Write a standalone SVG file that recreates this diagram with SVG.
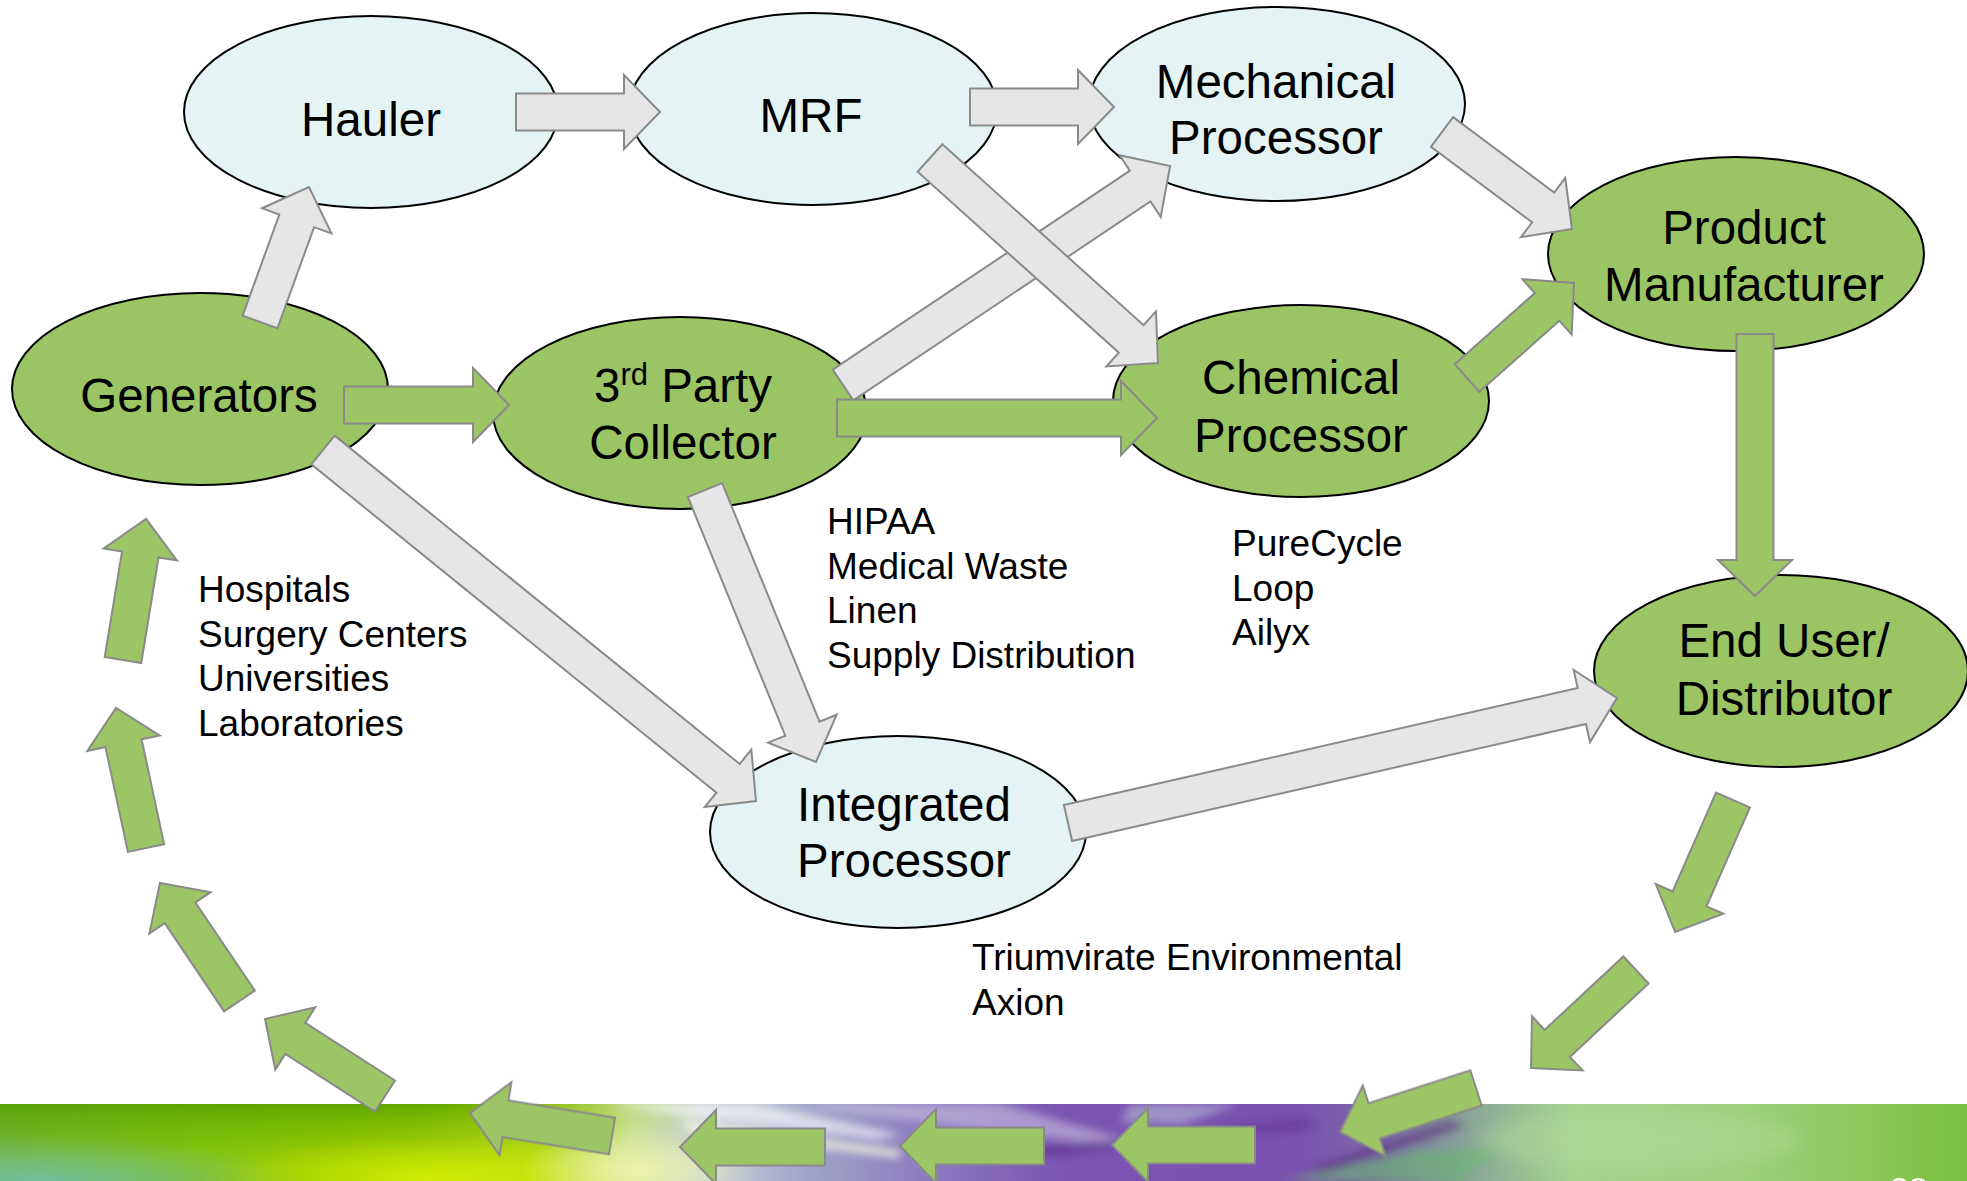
<svg xmlns="http://www.w3.org/2000/svg" width="1967" height="1181" viewBox="0 0 1967 1181">
  <defs>
    <style>
      .node-green { fill: #9bc565; stroke: #000; stroke-width: 2; }
      .node-blue { fill: #e4f3f4; stroke: #000; stroke-width: 2; }
      .label { font-family: "Liberation Sans", Arial, sans-serif; font-size: 47.5px; fill: #000; text-anchor: middle; }
      .note { font-family: "Liberation Sans", Arial, sans-serif; font-size: 37px; fill: #000; }
      .arrow-gray { fill: #e6e6e6; stroke: #8a8a8a; stroke-width: 2; stroke-linejoin: miter; }
      .arrow-green { fill: #9cc566; stroke: #8a8a8a; stroke-width: 2; stroke-linejoin: miter; }
      .page { font-family: "Liberation Sans", Arial, sans-serif; font-size: 34px; fill: #fff; }
    </style>
    <linearGradient id="bandBase" gradientUnits="userSpaceOnUse" x1="0" y1="0" x2="1967" y2="0">
      <stop offset="0" stop-color="#6aae48"/>
      <stop offset="0.08" stop-color="#78be18"/>
      <stop offset="0.18" stop-color="#98c800"/>
      <stop offset="0.27" stop-color="#b8d818"/>
      <stop offset="0.32" stop-color="#d6e6a0"/>
      <stop offset="0.36" stop-color="#c8d0d8"/>
      <stop offset="0.41" stop-color="#a0a4c8"/>
      <stop offset="0.47" stop-color="#8c7cc0"/>
      <stop offset="0.54" stop-color="#7c54b2"/>
      <stop offset="0.66" stop-color="#7a50b0"/>
      <stop offset="0.70" stop-color="#7c6aa8"/>
      <stop offset="0.745" stop-color="#88a498"/>
      <stop offset="0.80" stop-color="#a6d48e"/>
      <stop offset="0.88" stop-color="#a0d080"/>
      <stop offset="0.95" stop-color="#8ac85a"/>
      <stop offset="1" stop-color="#78c040"/>
    </linearGradient>
    <linearGradient id="bandShadeLeft" x1="0" y1="0" x2="0" y2="1">
      <stop offset="0" stop-color="#55a000" stop-opacity="0.85"/>
      <stop offset="0.45" stop-color="#70b800" stop-opacity="0.35"/>
      <stop offset="1" stop-color="#c8e800" stop-opacity="0"/>
    </linearGradient>
    <linearGradient id="fadeRight" gradientUnits="userSpaceOnUse" x1="0" y1="0" x2="700" y2="0">
      <stop offset="0" stop-color="#fff"/>
      <stop offset="0.6" stop-color="#fff"/>
      <stop offset="1" stop-color="#000"/>
    </linearGradient>
    <mask id="shadeMask" maskUnits="userSpaceOnUse" x="0" y="1104" width="700" height="77">
      <rect x="0" y="1104" width="700" height="77" fill="url(#fadeRight)"/>
    </mask>
    <radialGradient id="tealGlow" cx="0.5" cy="0.5" r="0.5">
      <stop offset="0" stop-color="#74c0a0" stop-opacity="0.95"/>
      <stop offset="1" stop-color="#74c0a0" stop-opacity="0"/>
    </radialGradient>
    <radialGradient id="limeGlow" cx="0.5" cy="0.5" r="0.5">
      <stop offset="0" stop-color="#d4f000" stop-opacity="0.9"/>
      <stop offset="1" stop-color="#d4f000" stop-opacity="0"/>
    </radialGradient>
    <radialGradient id="paleGlow" cx="0.5" cy="0.5" r="0.5">
      <stop offset="0" stop-color="#eef4b0" stop-opacity="0.9"/>
      <stop offset="1" stop-color="#eef4b0" stop-opacity="0"/>
    </radialGradient>
    <filter id="soft" x="-20%" y="-50%" width="140%" height="200%">
      <feGaussianBlur stdDeviation="4"/>
    </filter>
    <filter id="softer" x="-20%" y="-50%" width="140%" height="200%">
      <feGaussianBlur stdDeviation="9"/>
    </filter>
    <clipPath id="bandClip">
      <rect x="0" y="1104" width="1967" height="77"/>
    </clipPath>
  </defs>

  <rect x="0" y="0" width="1967" height="1181" fill="#fff"/>

  <!-- decorative footer band -->
  <g id="footer-band" clip-path="url(#bandClip)">
    <rect x="0" y="1104" width="1967" height="77" fill="url(#bandBase)"/>
    <rect x="0" y="1104" width="700" height="77" fill="url(#bandShadeLeft)" mask="url(#shadeMask)"/>
    <ellipse cx="40" cy="1181" rx="260" ry="45" fill="url(#tealGlow)"/>
    <ellipse cx="430" cy="1178" rx="230" ry="40" fill="url(#limeGlow)"/>
    <ellipse cx="640" cy="1170" rx="120" ry="40" fill="url(#paleGlow)"/>
    <!-- light streaks crossing the band -->
    <g filter="url(#soft)">
      <path d="M600,1104 L760,1104 L900,1134 L880,1140 Z" fill="#ffffff" opacity="0.6"/>
      <path d="M680,1120 L900,1150 L900,1158 L690,1132 Z" fill="#f6f8e0" opacity="0.8"/>
      <path d="M780,1104 L1000,1104 L1130,1140 L1110,1146 Z" fill="#c8c0e0" opacity="0.6"/>
      <path d="M1130,1104 L1240,1104 L1180,1125 L1120,1122 Z" fill="#b8c8d8" opacity="0.55"/>
      <path d="M1000,1150 L1300,1120 L1320,1126 L1010,1160 Z" fill="#5a2c8a" opacity="0.55"/>
      <path d="M1310,1168 L1450,1120 L1465,1126 L1320,1176 Z" fill="#5a2c80" opacity="0.6"/>
      <path d="M1280,1181 L1420,1150 L1500,1150 L1460,1181 Z" fill="#6ab870" opacity="0.6"/>
    </g>
    <ellipse cx="1640" cy="1140" rx="160" ry="30" fill="#b4dc9c" opacity="0.45" filter="url(#softer)"/>
    <text class="page" x="1890" y="1201">38</text>
  </g>

  <!-- nodes -->
  <g id="node-hauler">
    <ellipse class="node-blue" cx="371" cy="112" rx="187" ry="96"/>
    <text class="label" x="371" y="136">Hauler</text>
  </g>
  <g id="node-mrf">
    <ellipse class="node-blue" cx="813" cy="109" rx="184" ry="96"/>
    <text class="label" x="811" y="132">MRF</text>
  </g>
  <g id="node-mechanical">
    <ellipse class="node-blue" cx="1277" cy="104" rx="188" ry="97"/>
    <text class="label" x="1276" y="98">Mechanical</text>
    <text class="label" x="1276" y="154">Processor</text>
  </g>
  <g id="node-product">
    <ellipse class="node-green" cx="1736" cy="254" rx="188" ry="97"/>
    <text class="label" x="1744" y="244">Product</text>
    <text class="label" x="1744" y="301">Manufacturer</text>
  </g>
  <g id="node-generators">
    <ellipse class="node-green" cx="200" cy="389" rx="188" ry="96"/>
    <text class="label" x="199" y="412">Generators</text>
  </g>
  <g id="node-collector">
    <ellipse class="node-green" cx="680" cy="413" rx="187" ry="96"/>
    <text class="label" x="683" y="402">3<tspan font-size="31" dy="-17">rd</tspan><tspan dy="17"> Party</tspan></text>
    <text class="label" x="683" y="459">Collector</text>
  </g>
  <g id="node-chemical">
    <ellipse class="node-green" cx="1301" cy="401" rx="188" ry="96"/>
    <text class="label" x="1301" y="394">Chemical</text>
    <text class="label" x="1301" y="452">Processor</text>
  </g>
  <g id="node-enduser">
    <ellipse class="node-green" cx="1781" cy="671" rx="187" ry="96"/>
    <text class="label" x="1784" y="657">End User/</text>
    <text class="label" x="1784" y="715">Distributor</text>
  </g>
  <g id="node-integrated">
    <ellipse class="node-blue" cx="898" cy="832" rx="188" ry="96"/>
    <text class="label" x="904" y="821">Integrated</text>
    <text class="label" x="904" y="877">Processor</text>
  </g>

  <!-- annotations -->
  <g id="notes">
    <text class="note" x="198" y="602">Hospitals</text>
    <text class="note" x="198" y="646.5">Surgery Centers</text>
    <text class="note" x="198" y="691">Universities</text>
    <text class="note" x="198" y="735.5">Laboratories</text>

    <text class="note" x="827" y="534">HIPAA</text>
    <text class="note" x="827" y="578.5">Medical Waste</text>
    <text class="note" x="827" y="623">Linen</text>
    <text class="note" x="827" y="667.5">Supply Distribution</text>

    <text class="note" x="1232" y="556">PureCycle</text>
    <text class="note" x="1232" y="600.5">Loop</text>
    <text class="note" x="1232" y="645">Ailyx</text>

    <text class="note" x="972" y="970">Triumvirate Environmental</text>
    <text class="note" x="972" y="1014.5">Axion</text>
  </g>

  <!-- block-arrow connectors: each path is drawn along +x from its tail, then placed -->
  <g id="connectors">
    <!-- Hauler -> MRF -->
    <path class="arrow-gray" transform="translate(516 112)" d="M0,-18.5 H108 V-37 L144,0 L108,37 V18.5 H0 Z"/>
    <!-- MRF -> Mechanical Processor -->
    <path class="arrow-gray" transform="translate(970 107)" d="M0,-18.5 H108 V-37 L144,0 L108,37 V18.5 H0 Z"/>
    <!-- Generators -> Hauler -->
    <path class="arrow-gray" transform="translate(260 322) rotate(-70.05)" d="M0,-18.5 H107.6 V-37 L143.6,0 L107.6,37 V18.5 H0 Z"/>
    <!-- Generators -> 3rd Party Collector -->
    <path class="arrow-green" transform="translate(344 405)" d="M0,-18.5 H129 V-37 L165,0 L129,37 V18.5 H0 Z"/>
    <!-- Generators -> Integrated Processor -->
    <path class="arrow-gray" transform="translate(323 450) rotate(39.03)" d="M0,-18.5 H521.4 V-37 L557.4,0 L521.4,37 V18.5 H0 Z"/>
    <!-- 3rd Party Collector -> Integrated Processor -->
    <path class="arrow-gray" transform="translate(705 490) rotate(67.8)" d="M0,-18.5 H257.8 V-37 L293.8,0 L257.8,37 V18.5 H0 Z"/>
    <!-- 3rd Party Collector -> Mechanical Processor -->
    <path class="arrow-gray" transform="translate(843 385) rotate(-33.8)" d="M0,-18.5 H357.6 V-37 L393.6,0 L357.6,37 V18.5 H0 Z"/>
    <!-- MRF -> Chemical Processor -->
    <path class="arrow-gray" transform="translate(930 158) rotate(41.96)" d="M0,-18.5 H270.6 V-37 L306.6,0 L270.6,37 V18.5 H0 Z"/>
    <!-- 3rd Party Collector -> Chemical Processor -->
    <path class="arrow-green" transform="translate(837 418)" d="M0,-18.5 H284 V-37 L320,0 L284,37 V18.5 H0 Z"/>
    <!-- Mechanical Processor -> Product Manufacturer -->
    <path class="arrow-gray" transform="translate(1442 132) rotate(36.73)" d="M0,-18.5 H126.2 V-37 L162.2,0 L126.2,37 V18.5 H0 Z"/>
    <!-- Chemical Processor -> Product Manufacturer -->
    <path class="arrow-green" transform="translate(1467 378) rotate(-41.6)" d="M0,-18.5 H107.1 V-37 L143.1,0 L107.1,37 V18.5 H0 Z"/>
    <!-- Product Manufacturer -> End User/Distributor -->
    <path class="arrow-green" transform="translate(1755 334) rotate(90)" d="M0,-18.5 H226 V-37 L262,0 L226,37 V18.5 H0 Z"/>
    <!-- Integrated Processor -> End User/Distributor -->
    <path class="arrow-gray" transform="translate(1068 823) rotate(-12.83)" d="M0,-18.5 H527 V-37 L563,0 L527,37 V18.5 H0 Z"/>

    <!-- return loop: End User/Distributor back round to Generators -->
    <g id="return-loop">
      <path class="arrow-green" transform="translate(1733 800) rotate(113.7)" d="M0,-18.5 H108 V-37 L144,0 L108,37 V18.5 H0 Z"/>
      <path class="arrow-green" transform="translate(1636 970) rotate(137)" d="M0,-18.5 H107.6 V-37 L143.6,0 L107.6,37 V18.5 H0 Z"/>
      <path class="arrow-green" transform="translate(1476 1088) rotate(162.1)" d="M0,-18.5 H107 V-37 L143,0 L107,37 V18.5 H0 Z"/>
      <path class="arrow-green" transform="translate(1255 1145) rotate(180)" d="M0,-18.5 H107 V-37 L143,0 L107,37 V18.5 H0 Z"/>
      <path class="arrow-green" transform="translate(1044 1146) rotate(180)" d="M0,-18.5 H108 V-37 L144,0 L108,37 V18.5 H0 Z"/>
      <path class="arrow-green" transform="translate(825 1147) rotate(180)" d="M0,-18.5 H109 V-37 L145,0 L109,37 V18.5 H0 Z"/>
      <path class="arrow-green" transform="translate(612 1136) rotate(189.2)" d="M0,-18.5 H107.9 V-37 L143.9,0 L107.9,37 V18.5 H0 Z"/>
      <path class="arrow-green" transform="translate(385 1096) rotate(212.7)" d="M0,-18.5 H106.6 V-37 L142.6,0 L106.6,37 V18.5 H0 Z"/>
      <path class="arrow-green" transform="translate(239.5 1001) rotate(236)" d="M0,-18.5 H106.3 V-37 L142.3,0 L106.3,37 V18.5 H0 Z"/>
      <path class="arrow-green" transform="translate(146 848) rotate(257.9)" d="M0,-18.5 H107.2 V-37 L143.2,0 L107.2,37 V18.5 H0 Z"/>
      <path class="arrow-green" transform="translate(123 660) rotate(-80.7)" d="M0,-18.5 H106.9 V-37 L142.9,0 L106.9,37 V18.5 H0 Z"/>
    </g>
  </g>
</svg>
